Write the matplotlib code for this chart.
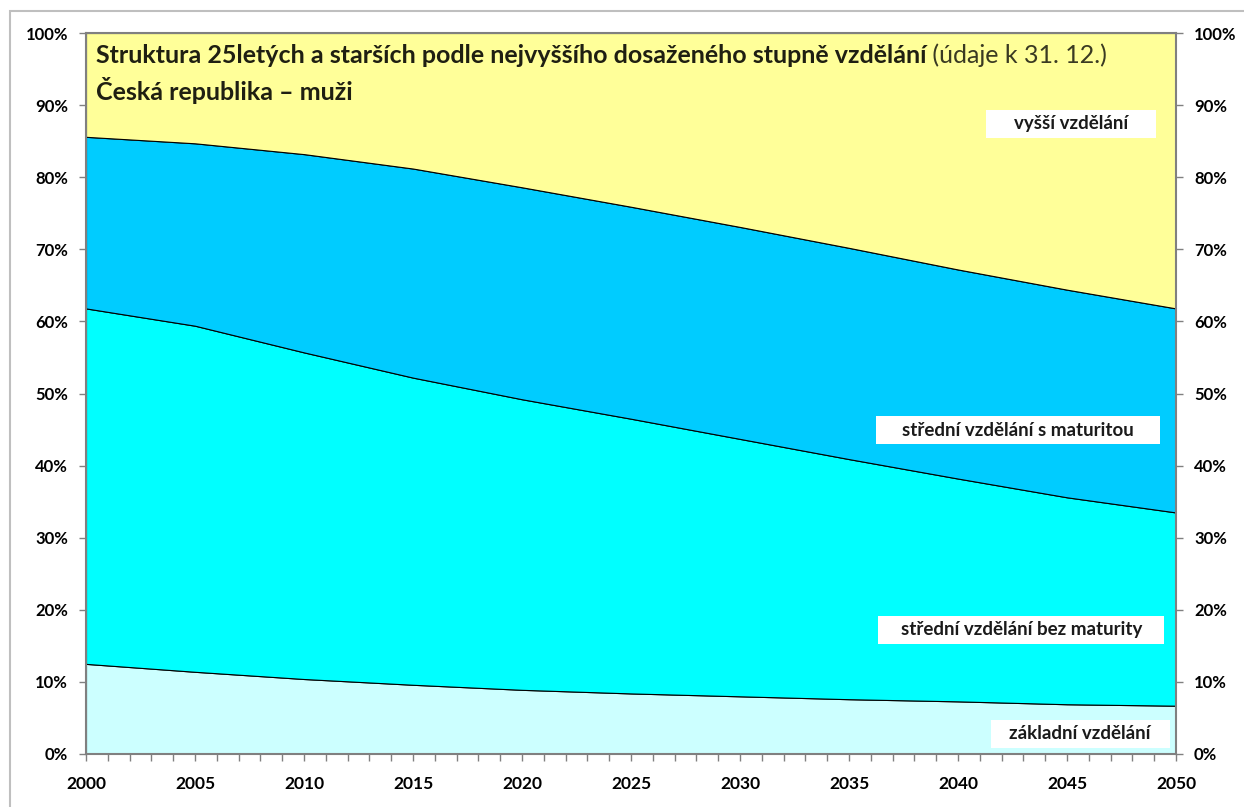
import matplotlib
matplotlib.use("Agg")
import matplotlib.pyplot as plt
from matplotlib.patches import Rectangle
from matplotlib.ticker import MultipleLocator, FuncFormatter

# ---- data (shares in %) ----
years = [2000, 2005, 2010, 2015, 2020, 2025, 2030, 2035, 2040, 2045, 2050]
zakladni = [12.5, 11.4, 10.4, 9.6, 8.9, 8.4, 8.0, 7.6, 7.3, 6.9, 6.7]
bez_maturity = [49.3, 48.0, 45.3, 42.6, 40.3, 38.1, 35.7, 33.3, 30.9, 28.7, 26.8]
s_maturitou = [23.8, 25.3, 27.5, 29.0, 29.4, 29.4, 29.4, 29.3, 29.0, 28.8, 28.3]
vyssi = [14.4, 15.3, 16.8, 18.8, 21.4, 24.1, 26.9, 29.8, 32.8, 35.6, 38.2]

series_labels = ["základní vzdělání", "střední vzdělání bez maturity",
                 "střední vzdělání s maturitou", "vyšší vzdělání"]
colors = ["#CCFFFF", "#00FFFF", "#00CCFF", "#FFFF99"]
label_pos = [(2045.6, 2.8), (2042.9, 17.2), (2042.75, 44.9), (2045.2, 87.4)]
box_widths_px = [179, 286, 284, 170]

title_bold = "Struktura 25letých a starších podle nejvyššího dosaženého stupně vzdělání"
title_norm = " (údaje k 31. 12.)"
subtitle = "Česká republika – muži"

plt.rcParams['font.family'] = ['Lato', 'DejaVu Sans']

W, H = 1244, 807
fig = plt.figure(figsize=(W / 100, H / 100), dpi=100)
fig.patch.set_facecolor("white")

# outer frame
fig.patches.append(Rectangle((10 / W, -0.05), 1.1, (H - 11) / H + 0.05,
                             transform=fig.transFigure, fill=False,
                             edgecolor="#BFBFBF", linewidth=1.5))

ax = fig.add_axes([86 / W, 1 - 754 / H, (1176 - 86) / W, (754 - 33) / H])
ax.stackplot(years, zakladni, bez_maturity, s_maturitou, vyssi,
             colors=colors, edgecolor="black", linewidth=0.8)
ax.set_xlim(2000, 2050)
ax.set_ylim(0, 100)

ax.xaxis.set_major_locator(MultipleLocator(5))
ax.xaxis.set_minor_locator(MultipleLocator(1))
ax.yaxis.set_major_locator(MultipleLocator(10))
ax.yaxis.set_major_formatter(FuncFormatter(lambda v, p: f"{int(round(v))}%"))

ax.tick_params(axis="x", which="major", direction="out", length=5, width=1,
               color="#808080", labelsize=12.5, pad=11)
ax.tick_params(axis="x", which="minor", direction="out", length=5, width=1,
               color="#808080")
ax.tick_params(axis="y", which="major", direction="out", length=5, width=1,
               color="#808080", labelsize=12, left=True, right=True,
               labelleft=True, labelright=True, pad=8)
for tick in ax.xaxis.get_major_ticks():
    tick.label1.set_fontweight("bold")
for tick in ax.yaxis.get_major_ticks():
    tick.label1.set_fontweight("bold")
    tick.label2.set_fontweight("bold")
for side in ["left", "right", "top", "bottom"]:
    ax.spines[side].set_color("#808080")
    ax.spines[side].set_linewidth(1.5)

fig.canvas.draw()

# labels with white boxes
for txt, (x, y), bw in zip(series_labels, label_pos, box_widths_px):
    ax.text(x, y, txt, ha="center", va="center", fontsize=13.5,
            fontweight="bold", color="#1a1a1a", zorder=5)
    cx, cy = ax.transData.transform((x, y))
    x0, y0 = ax.transData.inverted().transform((cx - bw / 2, cy - 14))
    x1, y1 = ax.transData.inverted().transform((cx + bw / 2, cy + 14))
    ax.add_patch(Rectangle((x0, y0), x1 - x0, y1 - y0, facecolor="white",
                           edgecolor="none", zorder=4))

# title
t1 = ax.text(0.009, 0.958, title_bold, transform=ax.transAxes, ha="left",
             va="baseline", fontsize=18, fontweight="bold", color="#1f1f12")
fig.canvas.draw()
bb = t1.get_window_extent(renderer=fig.canvas.get_renderer())
x_end = ax.transAxes.inverted().transform((bb.x1, bb.y1))[0]
ax.text(x_end, 0.958, title_norm, transform=ax.transAxes, ha="left",
        va="baseline", fontsize=18, color="#3a3a22")
ax.text(0.009, 0.907, subtitle, transform=ax.transAxes, ha="left",
        va="baseline", fontsize=18, fontweight="bold", color="#1f1f12")

fig.savefig("out.png", dpi=100)
